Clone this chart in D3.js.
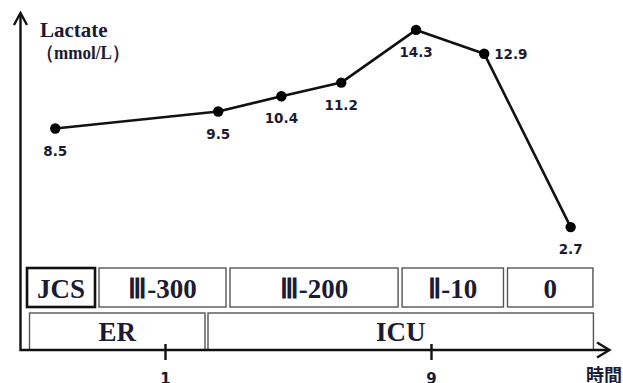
<!DOCTYPE html>
<html><head><meta charset="utf-8">
<script src="https://cdn.jsdelivr.net/npm/d3@7"></script>
<style>body{margin:0;background:#fff}svg{display:block}</style>
</head><body>
<svg id="c" width="623" height="383"></svg>
<script>
// ---- data ----
const times = [-2.3, 2.6, 4.5, 6.3, 8.55, 10.6, 13.2];
const lactate = [8.5, 9.5, 10.4, 11.2, 14.3, 12.9, 2.7];
const xTicks = [1, 9];
const jcsLabels = ["JCS", "Ⅲ-300", "Ⅲ-200", "Ⅱ-10", "0"];
const jcsBounds = [-3.21, -1.045, 2.895, 8.07, 11.24, 13.93];
const locLabels = ["ER", "ICU"];
const locBounds = [-3.12, 2.248, 13.93];
const yTitle = ["Lactate", "（mmol/L）"];
const xTitle = "時間";

// ---- drawing ----
const svg = d3.select("#c");
const ink = "#1b1b33";
const serif = "'Liberation Serif', 'Times New Roman', serif";
const sans = "'DejaVu Sans', Verdana, sans-serif";

const x = d3.scaleLinear().domain([1, 9]).range([165, 431]);
const y = d3.scaleLinear().domain([0, 16]).range([273, 1]);

const axisY0 = 350, axisX0 = 20.5;

// boxes row 1 (JCS)
const row1 = d3.pairs(jcsBounds).map((p, i) => ({a: p[0], b: p[1], label: jcsLabels[i], i}));
const g1 = svg.append("g");
g1.selectAll("rect").data(row1).join("rect")
  .attr("x", d => x(d.a) + 2).attr("width", d => x(d.b) - x(d.a) - 4)
  .attr("y", 268).attr("height", 39)
  .attr("fill", "#fff")
  .attr("stroke", d => d.i === 0 ? "#111" : "#555")
  .attr("stroke-width", d => d.i === 0 ? 2.6 : 1.4);
g1.selectAll("text").data(row1).join("text")
  .attr("x", d => (x(d.a) + x(d.b)) / 2).attr("y", 298)
  .attr("text-anchor", "middle")
  .attr("font-family", serif).attr("font-weight", "bold").attr("font-size", 27)
  .attr("fill", ink).text(d => d.label);

// boxes row 2 (location)
const row2 = d3.pairs(locBounds).map((p, i) => ({a: p[0], b: p[1], label: locLabels[i]}));
const g2 = svg.append("g");
g2.selectAll("rect").data(row2).join("rect")
  .attr("x", d => x(d.a) + 1.5).attr("width", d => x(d.b) - x(d.a) - 3)
  .attr("y", 313).attr("height", axisY0 - 313)
  .attr("fill", "#fff").attr("stroke", "#555").attr("stroke-width", 1.4);
g2.selectAll("text").data(row2).join("text")
  .attr("x", d => (x(d.a) + x(d.b)) / 2).attr("y", 341)
  .attr("text-anchor", "middle")
  .attr("font-family", serif).attr("font-weight", "bold").attr("font-size", 27)
  .attr("fill", ink).text(d => d.label);

// x axis ticks
const gx = svg.append("g").attr("transform", `translate(0,${axisY0})`)
  .call(d3.axisBottom(x).tickValues(xTicks).tickSize(10).tickFormat(d3.format("d")));
gx.select(".domain").remove();
gx.attr("font-family", sans).attr("font-size", 15).attr("font-weight", "bold");
gx.selectAll(".tick line").attr("y1", -6).attr("y2", 10).attr("stroke", "#111").attr("stroke-width", 2.4);
gx.selectAll(".tick text").attr("y", 34).attr("dy", null).attr("fill", ink);

// axes with arrows
const axisPath = svg.append("g").attr("fill", "none").attr("stroke", "#111").attr("stroke-width", 2.4);
axisPath.append("path").attr("d", `M${axisX0},13 L${axisX0},${axisY0} L609,${axisY0}`);
axisPath.append("path").attr("d", `M${axisX0 - 6.5},25 L${axisX0},13 L${axisX0 + 6.5},25`);
axisPath.append("path").attr("d", `M597,${axisY0 - 7.5} L609.5,${axisY0} L597,${axisY0 + 7.5}`);

// titles
svg.append("text").attr("x", 40).attr("y", 37)
  .attr("font-family", serif).attr("font-weight", "bold").attr("font-size", 21)
  .attr("fill", ink).text(yTitle[0]);
svg.append("text").attr("x", 37).attr("y", 59)
  .attr("font-family", serif).attr("font-weight", "bold").attr("font-size", 19)
  .attr("textLength", 92).attr("lengthAdjust", "spacingAndGlyphs")
  .attr("fill", ink).text(yTitle[1]);
svg.append("text").attr("x", 586).attr("y", 382)
  .attr("font-family", "'Noto Sans CJK JP', sans-serif").attr("font-weight", "bold").attr("font-size", 18)
  .attr("fill", ink).text(xTitle);

// line + points
const pts = times.map((t, i) => ({t, v: lactate[i], i}));
svg.append("path").datum(pts)
  .attr("fill", "none").attr("stroke", "#111").attr("stroke-width", 2.6).attr("stroke-linejoin", "round")
  .attr("d", d3.line().x(d => x(d.t)).y(d => y(d.v)));
svg.append("g").selectAll("circle").data(pts).join("circle")
  .attr("cx", d => x(d.t)).attr("cy", d => y(d.v)).attr("r", 5.2).attr("fill", "#000");

// value labels
const side = (d) => d.i === 5 ? "right" : "below";
svg.append("g").selectAll("text").data(pts).join("text")
  .attr("x", d => side(d) === "right" ? x(d.t) + 10 : x(d.t))
  .attr("y", d => side(d) === "right" ? y(d.v) + 5 : y(d.v) + 27)
  .attr("text-anchor", d => side(d) === "right" ? "start" : "middle")
  .attr("font-family", sans).attr("font-weight", "bold").attr("font-size", 13.5)
  .attr("fill", ink).text(d => d3.format(".1f")(d.v));
</script>
</body></html>
